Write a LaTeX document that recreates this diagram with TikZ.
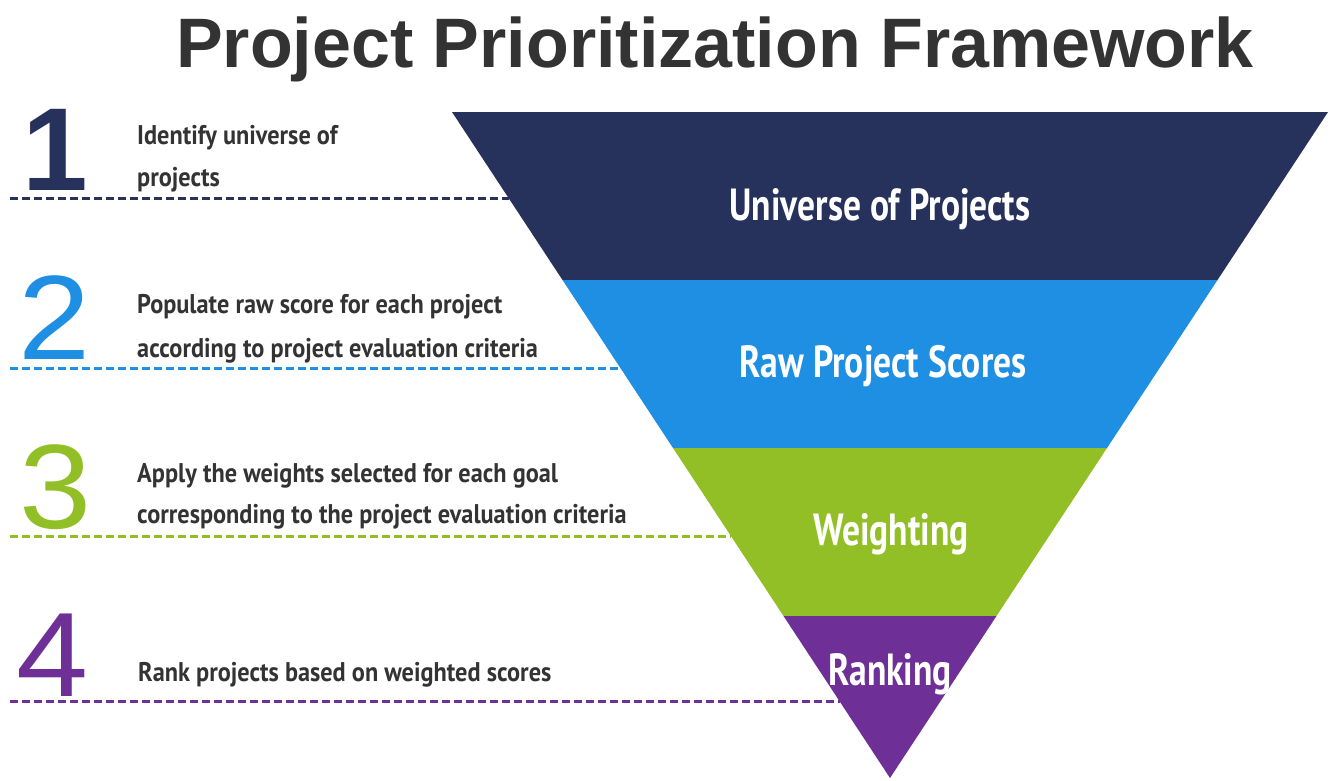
\documentclass[tikz,border=0pt]{standalone}
\usepackage{fontspec}
\setmainfont{Liberation Sans}
\newfontfamily\condfont{PT Sans}[FakeStretch=0.9]
\newfontfamily\bandfont{PT Sans}[FakeStretch=0.79]
\newfontfamily\numfont{Liberation Sans}[FakeStretch=1.08]
\definecolor{cnavy}{HTML}{27325C}
\definecolor{cblue}{HTML}{1E8FE3}
\definecolor{cgreen}{HTML}{92BF26}
\definecolor{cpurple}{HTML}{6E3096}
\definecolor{ctitle}{HTML}{333333}
\definecolor{ctext}{HTML}{333333}
\tikzset{
  num/.style={anchor=base west, inner sep=0pt, font=\numfont\fontsize{120}{120}\selectfont},
  lbl/.style={anchor=base west, inner sep=0pt, text=ctext, font=\condfont\bfseries\fontsize{27}{27}\selectfont},
  band/.style={anchor=base, inner sep=0pt, text=white, font=\bandfont\bfseries\fontsize{45}{45}\selectfont},
  leader/.style={dash pattern=on 7.5pt off 4.5pt, line width=3pt},
}
\begin{document}
\begin{tikzpicture}[x=1pt,y=-1pt]
\useasboundingbox (0,0) rectangle (1330,780);
% title
\node[anchor=base, inner sep=0pt, text=ctitle, font=\bfseries\fontsize{70}{70}\selectfont] (title) at (715,67) {Project Prioritization Framework};
% funnel bands
\fill[cnavy] (452,112) -- (1328,112) -- (1217.5,280) -- (562.5,280) -- cycle;
\fill[cblue] (562.5,280) -- (1217.5,280) -- (1107,448) -- (673,448) -- cycle;
\fill[cgreen] (673,448) -- (1107,448) -- (996.5,616) -- (783.5,616) -- cycle;
\fill[cpurple] (783.5,616) -- (996.5,616) -- (890,778) -- cycle;
% band labels
\node[band] (b1) at (880,220) {Universe of Projects};
\node[band] (b2) at (883,377) {Raw Project Scores};
\node[band] (b3) at (891,545) {Weighting};
\node[band] (b4) at (890,685) {Ranking};
% numbers
\node[num, text=cnavy, font=\bfseries\fontsize{118}{118}\selectfont] (n1) at (22,190) {1};
\node[num, text=cblue] (n2) at (18,359) {2};
\node[num, text=cgreen] (n3) at (19,528) {3};
\node[num, text=cpurple] (n4) at (16,696) {4};
% step labels
\node[lbl] (l1a) at (137,144) {Identify universe of};
\node[lbl] (l1b) at (137,186) {projects};
\node[lbl] (l2a) at (137,313) {Populate raw score for each project};
\node[lbl] (l2b) at (137,357) {according to project evaluation criteria};
\node[lbl] (l3a) at (137,482) {Apply the weights selected for each goal};
\node[lbl] (l3b) at (137,523) {corresponding to the project evaluation criteria};
\node[lbl] (l4) at (138,681) {Rank projects based on weighted scores};
% dashed leaders
\coordinate (d1a) at (10,198); \coordinate (d1b) at (509,198);
\coordinate (d2a) at (10,368); \coordinate (d2b) at (620,368);
\coordinate (d3a) at (10,536); \coordinate (d3b) at (731,536);
\coordinate (d4a) at (10,701); \coordinate (d4b) at (840,701);
\draw[leader, cnavy] (d1a) -- (d1b);
\draw[leader, cblue] (d2a) -- (d2b);
\draw[leader, cgreen] (d3a) -- (d3b);
\draw[leader, cpurple] (d4a) -- (d4b);
\end{tikzpicture}
\end{document}
